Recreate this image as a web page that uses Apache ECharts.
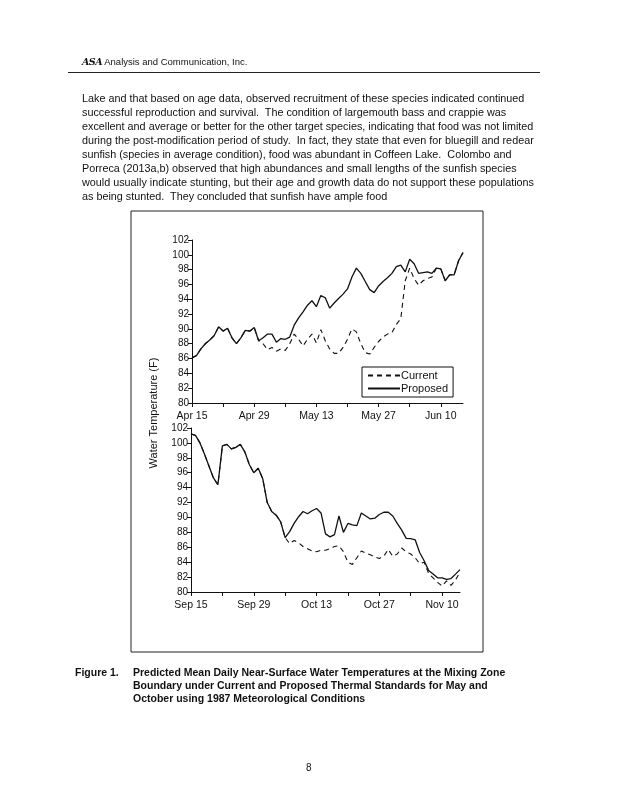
<!DOCTYPE html>
<html>
<head>
<meta charset="utf-8">
<script src="https://cdn.jsdelivr.net/npm/echarts@6/dist/echarts.min.js"></script>
<style>
  html, body { margin: 0; padding: 0; background: #fff; }
  body { width: 618px; height: 800px; position: relative; overflow: hidden; font-family: "Liberation Sans", Arial, sans-serif; color: #111; }
  #chart { position: absolute; left: 0; top: 0; width: 618px; height: 800px; }
  .t { position: absolute; white-space: pre; }
  .para { font-size: 10.8px; left: 82px; }
  .cap { font-size: 10.5px; font-weight: bold; }
</style>
</head>
<body>
<div id="chart"></div>

<div class="t" style="left:82px; top:56px; font-size:9.5px;"><span style="font-family:'DejaVu Serif',serif; font-style:italic; font-weight:bold; letter-spacing:-0.5px;">ASA</span> Analysis and Communication, Inc.</div>
<div style="position:absolute; left:68px; top:72px; width:472px; height:0; border-top:1px solid #222;"></div>

<div class="t para" style="top:92px;">Lake and that based on age data, observed recruitment of these species indicated continued</div>
<div class="t para" style="top:106px;">successful reproduction and survival.  The condition of largemouth bass and crappie was</div>
<div class="t para" style="top:120px;">excellent and average or better for the other target species, indicating that food was not limited</div>
<div class="t para" style="top:134px;">during the post-modification period of study.  In fact, they state that even for bluegill and redear</div>
<div class="t para" style="top:148px;">sunfish (species in average condition), food was abundant in Coffeen Lake.  Colombo and</div>
<div class="t para" style="top:162px;">Porreca (2013a,b) observed that high abundances and small lengths of the sunfish species</div>
<div class="t para" style="top:176px;">would usually indicate stunting, but their age and growth data do not support these populations</div>
<div class="t para" style="top:190px;">as being stunted.  They concluded that sunfish have ample food</div>

<div class="t cap" style="left:75px; top:666px;">Figure 1.</div>
<div class="t cap" style="left:133px; top:666px;">Predicted Mean Daily Near-Surface Water Temperatures at the Mixing Zone</div>
<div class="t cap" style="left:133px; top:679px;">Boundary under Current and Proposed Thermal Standards for May and</div>
<div class="t cap" style="left:133px; top:692px;">October using 1987 Meteorological Conditions</div>

<div class="t" style="left:306px; top:762px; font-size:10px;">8</div>

<script>
// ---- Data ----
const springDays = [
  'Apr 15','Apr 16','Apr 17','Apr 18','Apr 19','Apr 20','Apr 21','Apr 22','Apr 23','Apr 24','Apr 25','Apr 26','Apr 27','Apr 28','Apr 29','Apr 30',
  'May 1','May 2','May 3','May 4','May 5','May 6','May 7','May 8','May 9','May 10','May 11','May 12','May 13','May 14','May 15','May 16',
  'May 17','May 18','May 19','May 20','May 21','May 22','May 23','May 24','May 25','May 26','May 27','May 28','May 29','May 30','May 31',
  'Jun 1','Jun 2','Jun 3','Jun 4','Jun 5','Jun 6','Jun 7','Jun 8','Jun 9','Jun 10','Jun 11','Jun 12','Jun 13','Jun 14','Jun 15'
];
const springCurrent = [
  86.1,86.4,87.3,88.0,88.5,89.1,90.3,89.7,90.1,88.8,88.0,88.8,89.8,89.7,90.2,88.4,
  88.0,87.2,87.5,87.0,87.3,87.1,88.0,89.3,88.6,87.7,88.6,89.3,88.1,89.9,88.4,87.3,
  86.7,86.7,87.5,88.6,90.0,89.6,88.0,86.8,86.6,87.5,88.3,88.9,89.3,89.5,90.6,91.4,
  96.5,98.2,96.8,95.9,96.5,96.8,97.0,98.2,98.1,96.5,97.3,97.3,99.2,100.3
];
const springProposed = [
  86.1,86.4,87.3,88.0,88.5,89.1,90.3,89.7,90.1,88.8,88.0,88.8,89.8,89.7,90.2,88.4,
  88.8,89.3,89.3,88.2,88.7,88.6,88.9,90.5,91.5,92.3,93.2,93.8,93.0,94.5,94.2,92.8,
  93.5,94.1,94.7,95.4,97.0,98.2,97.5,96.4,95.3,94.9,95.8,96.4,96.9,97.5,98.4,98.6,
  97.7,99.4,98.8,97.5,97.6,97.7,97.5,98.2,98.1,96.5,97.3,97.3,99.2,100.3
];
const fallDays = [
  'Sep 15','Sep 16','Sep 17','Sep 18','Sep 19','Sep 20','Sep 21','Sep 22','Sep 23','Sep 24','Sep 25','Sep 26','Sep 27','Sep 28','Sep 29','Sep 30',
  'Oct 1','Oct 2','Oct 3','Oct 4','Oct 5','Oct 6','Oct 7','Oct 8','Oct 9','Oct 10','Oct 11','Oct 12','Oct 13','Oct 14','Oct 15','Oct 16',
  'Oct 17','Oct 18','Oct 19','Oct 20','Oct 21','Oct 22','Oct 23','Oct 24','Oct 25','Oct 26','Oct 27','Oct 28','Oct 29','Oct 30','Oct 31',
  'Nov 1','Nov 2','Nov 3','Nov 4','Nov 5','Nov 6','Nov 7','Nov 8','Nov 9','Nov 10','Nov 11','Nov 12','Nov 13','Nov 14'
];
const fallCurrent = [
  101.2,101.0,100.0,98.5,96.9,95.3,94.4,99.6,99.8,99.2,99.4,99.8,98.8,97.1,96.0,96.6,
  95.2,92.0,90.8,90.3,89.4,87.3,86.5,86.9,86.6,86.1,85.8,85.5,85.4,85.6,85.6,85.8,
  86.1,86.2,85.4,84.0,83.7,84.6,85.5,85.2,85.0,84.7,84.5,84.8,85.7,84.8,85.1,85.9,
  85.4,85.1,84.6,83.8,84.0,82.5,81.9,81.3,80.8,81.5,80.9,81.6,82.7
];
const fallProposed = [
  101.2,101.0,100.0,98.5,96.9,95.3,94.4,99.6,99.8,99.2,99.4,99.8,98.8,97.1,96.0,96.6,
  95.2,92.0,90.8,90.3,89.4,87.3,88.1,89.2,90.1,90.8,90.5,90.9,91.2,90.6,87.8,87.4,
  87.7,90.2,88.0,89.2,89.0,88.9,90.6,90.2,89.8,89.9,90.4,90.7,90.7,90.2,89.2,88.3,
  87.2,87.15,87.0,85.3,84.2,82.9,82.4,81.9,81.9,81.7,81.8,82.4,83.0
];
const yTicks = { min: 80, max: 102, step: 2 };
const seriesNames = ['Current', 'Proposed'];
const yAxisTitle = 'Water Temperature (F)';

// ---- Chart ----
const ink = '#111';
const font = '"Liberation Sans", Arial, sans-serif';
const chart = echarts.init(document.getElementById('chart'), null, { renderer: 'canvas' });

function xAxis(idx, cats) {
  return {
    type: 'category', gridIndex: idx, data: cats, boundaryGap: false,
    axisLine: { lineStyle: { color: ink, width: 1 } },
    axisTick: { length: 4, lineStyle: { color: ink }, interval: (i) => i % 7 === 0 },
    axisLabel: { color: ink, fontFamily: font, fontSize: 10.5, margin: 8, interval: (i) => i % 14 === 0 },
    splitLine: { show: false }
  };
}
function yAxis(idx) {
  return {
    type: 'value', gridIndex: idx, min: yTicks.min, max: yTicks.max, interval: yTicks.step,
    axisLine: { show: true, lineStyle: { color: ink, width: 1 } },
    axisTick: { show: true, length: 4, lineStyle: { color: ink } },
    axisLabel: { color: ink, fontFamily: font, fontSize: 10, margin: 3 },
    splitLine: { show: false }
  };
}
function line(name, xi, data, dashed) {
  return {
    name: name, type: 'line', xAxisIndex: xi, yAxisIndex: xi, data: data,
    symbol: 'none', smooth: false, animation: false,
    lineStyle: { color: ink, width: dashed ? 1.1 : 1.3, type: dashed ? [5, 4] : 'solid' },
    itemStyle: { color: ink }
  };
}

chart.setOption({
  animation: false,
  grid: [
    { left: 192, top: 240, width: 271, height: 163 },
    { left: 191, top: 428, width: 269, height: 164 }
  ],
  xAxis: [xAxis(0, springDays), xAxis(1, fallDays)],
  yAxis: [yAxis(0), yAxis(1)],
  legend: {
    show: true,
    data: seriesNames, orient: 'vertical', left: 362, top: 367,
    itemWidth: 32, itemHeight: 10, itemGap: 2,
    padding: [3, 5, 3, 5], borderColor: ink, borderWidth: 1, backgroundColor: '#fff',
    textStyle: { color: ink, fontFamily: font, fontSize: 11, padding: [0, 0, 0, -4] },
    itemStyle: { opacity: 0, borderWidth: 0 },
    selectedMode: false
  },
  series: [
    line(seriesNames[0], 0, springCurrent, true),
    line(seriesNames[1], 0, springProposed, false),
    line(seriesNames[0], 1, fallCurrent, true),
    line(seriesNames[1], 1, fallProposed, false)
  ],
  graphic: [
    { type: 'rect', shape: { x: 131, y: 211, width: 352, height: 441 }, style: { fill: 'none', stroke: '#222', lineWidth: 1 }, silent: true },
    { type: 'text', x: 154, y: 413, rotation: Math.PI / 2, style: { text: yAxisTitle, fill: ink, font: '11px ' + font, align: 'center', verticalAlign: 'middle' }, silent: true }
  ]
});
</script>
</body>
</html>
